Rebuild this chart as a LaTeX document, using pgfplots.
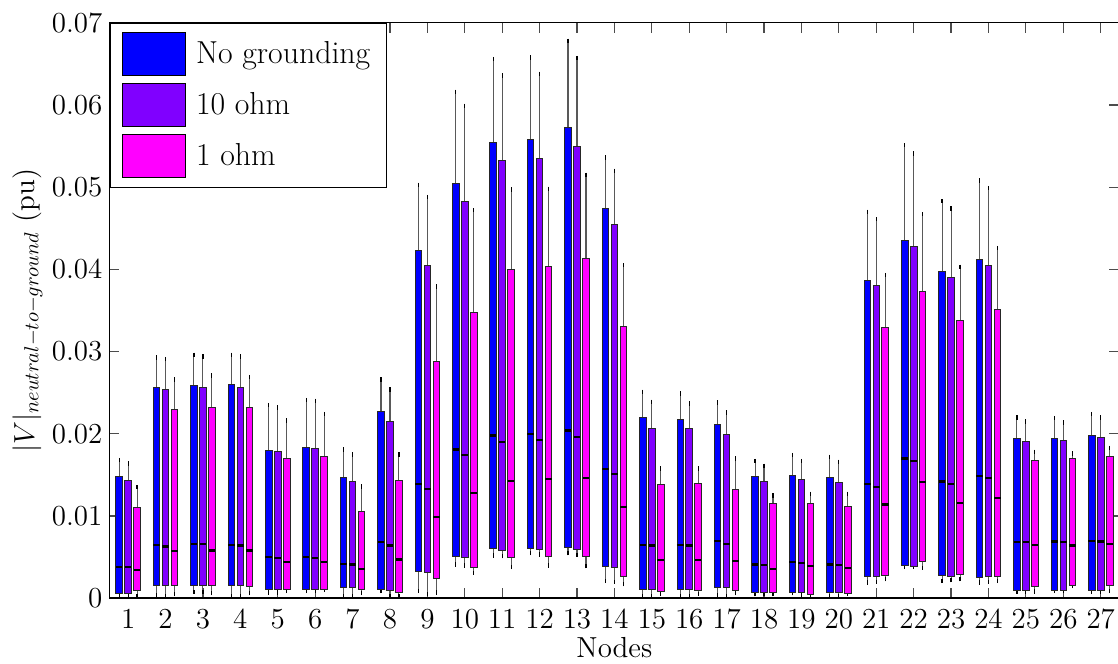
\RequirePackage{fix-cm}
\documentclass[border=0pt]{standalone}
\usepackage{pgfplots}
\pgfplotsset{compat=1.18}

\definecolor{cNone}{RGB}{0,0,255}
\definecolor{cTen}{RGB}{128,0,255}
\definecolor{cOne}{RGB}{255,0,255}

\newcommand{\lbl}{\fontsize{14.5}{17}\selectfont}
\newcommand{\leg}{\fontsize{15.9}{19}\selectfont}

\pgfplotsset{
  swatch/.style={legend image code/.code={%
      \draw[draw=black, line width=0.5pt, ##1] (0pt,-10.75pt) rectangle (31.5pt,10.75pt);
      \path (34.5pt,0pt);}},
}

% one box: colour, centre, lower whisker, lower quartile, median, upper quartile, upper whisker
\newcommand{\bx}[7]{%
  \pgfmathsetmacro{\xc}{#2}%
  \pgfmathsetmacro{\xl}{#2-0.088}%
  \pgfmathsetmacro{\xr}{#2+0.088}%
  \pgfmathsetmacro{\dn}{#5-#3}%
  \pgfmathsetmacro{\up}{#7-#5}%
  \addplot[forget plot, draw=none, mark=none,
    error bars/.cd, y dir=both, y explicit,
    error bar style={draw=black!65, line width=0.55pt},
    error mark options={draw=black, line width=0.6pt, mark size=1.1pt}]
    coordinates {(\xc,#5) += (0,\up) -= (0,\dn)};
  \addplot[forget plot, fill=#1, draw=black!85, line width=0.45pt, mark=none]
    coordinates {(\xl,#4) (\xr,#4) (\xr,#6) (\xl,#6)} --cycle;
  \addplot[forget plot, draw=black, line width=1.1pt, mark=none]
    coordinates {(\xl,#5) (\xr,#5)};
}
\newcommand{\bB}[6]{\bx{cNone}{#1-0.24}{#2}{#3}{#4}{#5}{#6}}
\newcommand{\bP}[6]{\bx{cTen}{#1}{#2}{#3}{#4}{#5}{#6}}
\newcommand{\bM}[6]{\bx{cOne}{#1+0.24}{#2}{#3}{#4}{#5}{#6}}

\begin{document}
\begin{tikzpicture}
\begin{axis}[
  scale only axis,
  width=505pt, height=287.7pt,
  xmin=0.5, xmax=27.5,
  ymin=0, ymax=0.07,
  xtick={1,...,27},
  ytick={0,0.01,0.02,0.03,0.04,0.05,0.06,0.07},
  yticklabels={0,0.01,0.02,0.03,0.04,0.05,0.06,0.07},
  scaled y ticks=false,
  tick align=inside,
  tick pos=both,
  major tick length=5pt,
  tick style={black!70, line width=0.6pt},
  axis line style={line width=0.7pt},
  ticklabel style={font=\lbl},
  xticklabel style={yshift=-2.5pt},
  xlabel={Nodes},
  xlabel style={font=\lbl, yshift=2.5pt},
  ylabel={$|V|_{neutral-to-ground}$ (pu)},
  ylabel style={font=\lbl, at={(axis description cs:0,0.5)}, anchor=center, yshift=41pt},
  legend style={at={(0,1)}, anchor=north west, draw=black, line width=0.6pt,
    font=\leg, cells={anchor=west}, inner xsep=6pt, inner ysep=4.5pt, row sep=3.5pt},
]
\coordinate (bl) at (rel axis cs:0,0);
\coordinate (tr) at (rel axis cs:1,1);

\addlegendimage{swatch, fill=cNone}\addlegendentry{No grounding}
\addlegendimage{swatch, fill=cTen}\addlegendentry{10 ohm}
\addlegendimage{swatch, fill=cOne}\addlegendentry{1 ohm}

\bB{1}{0.0002}{0.0006}{0.0038}{0.0148}{0.0168}
\bP{1}{0.0002}{0.0006}{0.0038}{0.0143}{0.0164}
\bM{1}{0.0002}{0.0009}{0.0034}{0.0110}{0.0135}
\bB{2}{0.0004}{0.0016}{0.0065}{0.0256}{0.0293}
\bP{2}{0.0002}{0.0016}{0.0063}{0.0254}{0.0291}
\bM{2}{0.0005}{0.0015}{0.0057}{0.0230}{0.0266}
\bB{3}{0.0008}{0.0016}{0.0066}{0.0259}{0.0296}
\bP{3}{0.0008}{0.0016}{0.0066}{0.0256}{0.0294}
\bM{3}{0.0006}{0.0015}{0.0058}{0.0232}{0.0271}
\bB{4}{0.0003}{0.0016}{0.0065}{0.0260}{0.0296}
\bP{4}{0.0002}{0.0016}{0.0064}{0.0256}{0.0294}
\bM{4}{0.0006}{0.0014}{0.0058}{0.0232}{0.0269}
\bB{5}{0.0007}{0.0011}{0.0050}{0.0180}{0.0235}
\bP{5}{0.0007}{0.0011}{0.0049}{0.0178}{0.0232}
\bM{5}{0.0009}{0.0011}{0.0044}{0.0170}{0.0216}
\bB{6}{0.0009}{0.0011}{0.0050}{0.0183}{0.0241}
\bP{6}{0.0009}{0.0011}{0.0049}{0.0182}{0.0240}
\bM{6}{0.0010}{0.0011}{0.0044}{0.0173}{0.0224}
\bB{7}{0.0002}{0.0013}{0.0042}{0.0147}{0.0181}
\bP{7}{0.0002}{0.0013}{0.0041}{0.0142}{0.0175}
\bM{7}{0.0006}{0.0011}{0.0036}{0.0106}{0.0136}
\bB{8}{0.0009}{0.0011}{0.0068}{0.0227}{0.0266}
\bP{8}{0.0002}{0.0010}{0.0064}{0.0215}{0.0254}
\bM{8}{0.0002}{0.0007}{0.0047}{0.0143}{0.0175}
\bB{9}{0.0009}{0.0032}{0.0139}{0.0423}{0.0503}
\bP{9}{0.0005}{0.0031}{0.0133}{0.0405}{0.0488}
\bM{9}{0.0007}{0.0024}{0.0099}{0.0288}{0.0379}
\bB{10}{0.0041}{0.0051}{0.0181}{0.0504}{0.0616}
\bP{10}{0.0040}{0.0049}{0.0174}{0.0483}{0.0599}
\bM{10}{0.0031}{0.0038}{0.0128}{0.0348}{0.0472}
\bB{11}{0.0052}{0.0060}{0.0198}{0.0555}{0.0656}
\bP{11}{0.0051}{0.0058}{0.0190}{0.0532}{0.0636}
\bM{11}{0.0038}{0.0049}{0.0143}{0.0400}{0.0497}
\bB{12}{0.0055}{0.0061}{0.0200}{0.0558}{0.0658}
\bP{12}{0.0053}{0.0059}{0.0192}{0.0535}{0.0638}
\bM{12}{0.0040}{0.0051}{0.0145}{0.0404}{0.0498}
\bB{13}{0.0055}{0.0062}{0.0204}{0.0573}{0.0678}
\bP{13}{0.0053}{0.0059}{0.0196}{0.0550}{0.0657}
\bM{13}{0.0039}{0.0051}{0.0146}{0.0413}{0.0515}
\bB{14}{0.0021}{0.0039}{0.0157}{0.0474}{0.0536}
\bP{14}{0.0020}{0.0038}{0.0151}{0.0455}{0.0520}
\bM{14}{0.0017}{0.0027}{0.0111}{0.0331}{0.0405}
\bB{15}{0.0002}{0.0011}{0.0065}{0.0220}{0.0251}
\bP{15}{0.0002}{0.0011}{0.0064}{0.0207}{0.0239}
\bM{15}{0.0005}{0.0008}{0.0046}{0.0138}{0.0158}
\bB{16}{0.0002}{0.0011}{0.0065}{0.0218}{0.0249}
\bP{16}{0.0002}{0.0011}{0.0064}{0.0206}{0.0237}
\bM{16}{0.0005}{0.0009}{0.0046}{0.0139}{0.0158}
\bB{17}{0.0004}{0.0013}{0.0070}{0.0211}{0.0238}
\bP{17}{0.0003}{0.0013}{0.0066}{0.0199}{0.0226}
\bM{17}{0.0006}{0.0009}{0.0045}{0.0132}{0.0170}
\bB{18}{0.0005}{0.0007}{0.0041}{0.0148}{0.0167}
\bP{18}{0.0005}{0.0007}{0.0040}{0.0142}{0.0161}
\bM{18}{0.0005}{0.0007}{0.0036}{0.0115}{0.0125}
\bB{19}{0.0006}{0.0007}{0.0044}{0.0149}{0.0174}
\bP{19}{0.0004}{0.0007}{0.0043}{0.0145}{0.0167}
\bM{19}{0.0003}{0.0004}{0.0039}{0.0115}{0.0127}
\bB{20}{0.0003}{0.0007}{0.0041}{0.0147}{0.0172}
\bP{20}{0.0003}{0.0007}{0.0040}{0.0141}{0.0166}
\bM{20}{0.0005}{0.0006}{0.0037}{0.0112}{0.0127}
\bB{21}{0.0019}{0.0027}{0.0139}{0.0386}{0.0470}
\bP{21}{0.0020}{0.0026}{0.0135}{0.0380}{0.0461}
\bM{21}{0.0023}{0.0028}{0.0114}{0.0329}{0.0393}
\bB{22}{0.0038}{0.0040}{0.0170}{0.0435}{0.0551}
\bP{22}{0.0038}{0.0039}{0.0167}{0.0428}{0.0541}
\bM{22}{0.0037}{0.0045}{0.0141}{0.0373}{0.0467}
\bB{23}{0.0021}{0.0028}{0.0142}{0.0397}{0.0483}
\bP{23}{0.0022}{0.0027}{0.0139}{0.0390}{0.0474}
\bM{23}{0.0023}{0.0029}{0.0116}{0.0338}{0.0403}
\bB{24}{0.0019}{0.0025}{0.0149}{0.0412}{0.0508}
\bP{24}{0.0020}{0.0026}{0.0146}{0.0405}{0.0499}
\bM{24}{0.0021}{0.0027}{0.0122}{0.0351}{0.0426}
\bB{25}{0.0008}{0.0009}{0.0068}{0.0194}{0.0220}
\bP{25}{0.0008}{0.0009}{0.0068}{0.0191}{0.0215}
\bM{25}{0.0008}{0.0014}{0.0065}{0.0168}{0.0178}
\bB{26}{0.0009}{0.0010}{0.0069}{0.0194}{0.0219}
\bP{26}{0.0009}{0.0010}{0.0068}{0.0192}{0.0214}
\bM{26}{0.0015}{0.0015}{0.0064}{0.0170}{0.0176}
\bB{27}{0.0008}{0.0009}{0.0070}{0.0198}{0.0224}
\bP{27}{0.0008}{0.0009}{0.0069}{0.0195}{0.0220}
\bM{27}{0.0009}{0.0015}{0.0066}{0.0173}{0.0183}
\end{axis}
\pgfresetboundingbox
\path ([xshift=-54.7pt,yshift=-32.5pt]bl) rectangle ([xshift=-0.7pt,yshift=11.4pt]tr);
\end{tikzpicture}
\end{document}
